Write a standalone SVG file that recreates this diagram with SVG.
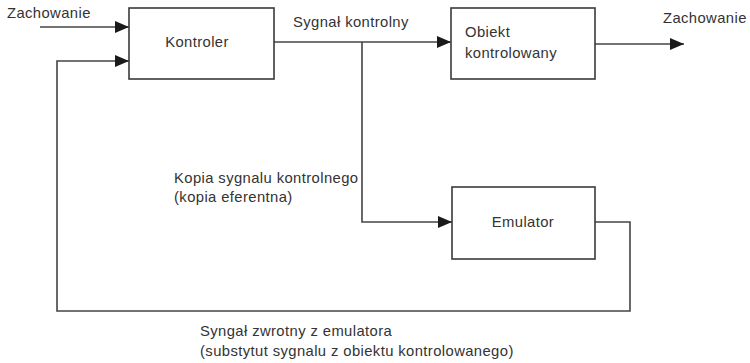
<svg xmlns="http://www.w3.org/2000/svg" width="750" height="363" viewBox="0 0 750 363">
<defs>
<style>
.box{fill:#fff;stroke:#3a3a3a;stroke-width:1.6}
.wire{fill:none;stroke:#444;stroke-width:1.6}
text{font-family:"Liberation Sans",Arial,sans-serif;font-size:14.8px;fill:#333;letter-spacing:0.4px}
</style>
<marker id="arr" viewBox="0 0 14 12" refX="14" refY="6" markerWidth="14" markerHeight="12" markerUnits="userSpaceOnUse" orient="auto">
<path d="M0,0 L14,6 L0,12 Z" fill="#1a1a1a"/>
</marker>
</defs>
<rect width="750" height="363" fill="#fff"/>
<g id="connectors">
<path class="wire" d="M40,27 H129" marker-end="url(#arr)"/>
<path class="wire" d="M595,222 H630 V311 H57 V61 H129" marker-end="url(#arr)"/>
<path class="wire" d="M274,42 H451" marker-end="url(#arr)"/>
<path class="wire" d="M362,42 V222 H452" marker-end="url(#arr)"/>
<path class="wire" d="M595,44 H684" marker-end="url(#arr)"/>
</g>
<g id="kontroler">
<rect class="box" x="129" y="8" width="145" height="71"/>
<text x="197" y="47" text-anchor="middle">Kontroler</text>
</g>
<g id="obiekt">
<rect class="box" x="451" y="8" width="144" height="71"/>
<text x="465" y="37">Obiekt</text>
<text x="465" y="58">kontrolowany</text>
</g>
<g id="emulator">
<rect class="box" x="452" y="187" width="143" height="72"/>
<text x="523" y="227" text-anchor="middle">Emulator</text>
</g>
<g id="labels">
<text x="7" y="18">Zachowanie</text>
<text x="663" y="23">Zachowanie</text>
<text x="293" y="27">Sygnał kontrolny</text>
<text x="174" y="183">Kopia sygnalu kontrolnego</text>
<text x="174" y="202">(kopia eferentna)</text>
<text x="200" y="336">Syngał zwrotny z emulatora</text>
<text x="200" y="356">(substytut sygnalu z obiektu kontrolowanego)</text>
</g>
</svg>
